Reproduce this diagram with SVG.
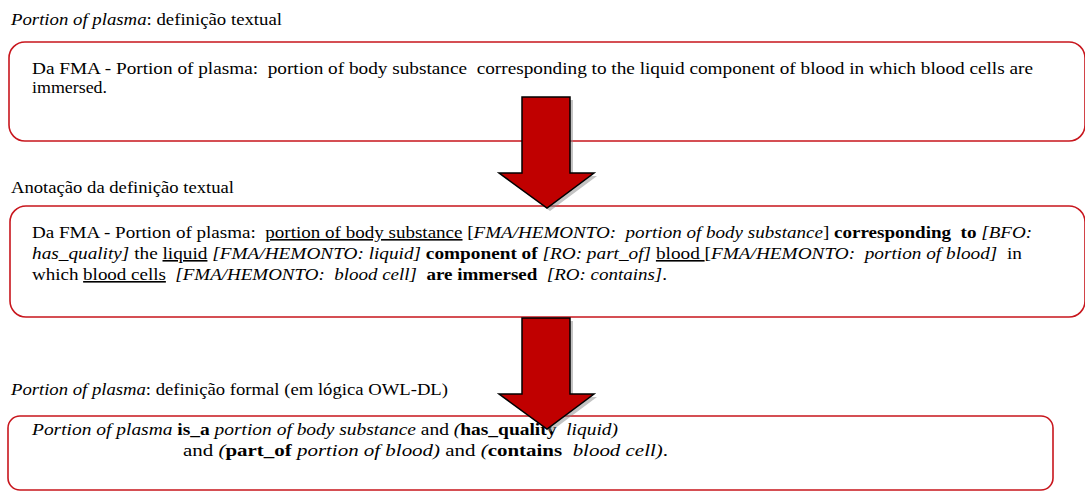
<svg xmlns="http://www.w3.org/2000/svg" width="1085" height="492" viewBox="0 0 1085 492" font-family="'Liberation Serif', 'Times New Roman', serif" font-size="16">
<style>
text{fill:#000;white-space:pre}
.i{font-style:italic}
.b{font-weight:bold}
.u{text-decoration:underline}
.box{fill:none;stroke:#C8161D;stroke-width:1.6}
.arrow{fill:#C00000;stroke:#000;stroke-width:1.5;stroke-linejoin:miter}
.shadow{fill:#888;opacity:0.5}
</style>
<g id="title1"><text x="11" y="25" textLength="271" lengthAdjust="spacingAndGlyphs"><tspan class="i">Portion of plasma</tspan>: definição textual</text></g>
<g id="box1">
<rect class="box" x="9" y="42" width="1076" height="99" rx="16"/>
<text x="32" y="74" textLength="1001" lengthAdjust="spacingAndGlyphs">Da FMA - Portion of plasma:  portion of body substance  corresponding to the liquid component of blood in which blood cells are</text>
<text x="32" y="93" textLength="75" lengthAdjust="spacingAndGlyphs">immersed.</text>
</g>
<g id="title2"><text x="11" y="193" textLength="223" lengthAdjust="spacingAndGlyphs">Anotação da definição textual</text></g>
<g id="box2">
<rect class="box" x="10" y="206" width="1075" height="111" rx="16"/>
<text x="32" y="238" textLength="1000" lengthAdjust="spacingAndGlyphs">Da FMA - Portion of plasma:  <tspan class="u">portion of body substance</tspan> [<tspan class="i">FMA/HEMONTO:  portion of body substance</tspan>] <tspan class="b">corresponding  to</tspan> <tspan class="i">[BFO:</tspan></text>
<text x="32" y="259" textLength="990" lengthAdjust="spacingAndGlyphs"><tspan class="i">has_quality]</tspan> the <tspan class="u">liquid</tspan> <tspan class="i">[FMA/HEMONTO: liquid]</tspan> <tspan class="b">component of</tspan> <tspan class="i">[RO: part_of]</tspan> <tspan class="u">blood </tspan>[<tspan class="i">FMA/HEMONTO:  portion of blood]</tspan>  in</text>
<text x="32" y="280" textLength="635" lengthAdjust="spacingAndGlyphs">which <tspan class="u">blood cells</tspan>  <tspan class="i">[FMA/HEMONTO:  blood cell]</tspan>  <tspan class="b">are immersed</tspan>  <tspan class="i">[RO: contains]</tspan>.</text>
</g>
<g id="title3"><text x="11" y="395" textLength="437" lengthAdjust="spacingAndGlyphs"><tspan class="i">Portion of plasma</tspan>: definição formal (em lógica OWL-DL)</text></g>
<g id="box3">
<rect class="box" x="8" y="416" width="1045" height="74" rx="12"/>
<text x="32" y="435" textLength="586" lengthAdjust="spacingAndGlyphs"><tspan class="i">Portion of plasma</tspan> <tspan class="b">is_a</tspan> <tspan class="i">portion of body substance</tspan> and <tspan class="i">(</tspan><tspan class="b">has_quality</tspan>  <tspan class="i">liquid)</tspan></text>
<text x="183" y="456" textLength="485" lengthAdjust="spacingAndGlyphs">and <tspan class="i">(</tspan><tspan class="b">part_of</tspan> <tspan class="i">portion of blood)</tspan> and <tspan class="i">(</tspan><tspan class="b">contains</tspan>  <tspan class="i">blood cell)</tspan>.</text>
</g>
<g id="connectors">
<polygon class="shadow" points="525,100 573,100 573,176 597,176 550,211 502,176 525,176"/>
<polygon class="arrow" points="522,97 570,97 570,173 594,173 547,208 499,173 522,173"/>
<polygon class="shadow" points="525,321 573,321 573,397 597,397 550,432 502,397 525,397"/>
<polygon class="arrow" points="522,318 570,318 570,394 594,394 547,429 499,394 522,394"/>
</g>
</svg>
